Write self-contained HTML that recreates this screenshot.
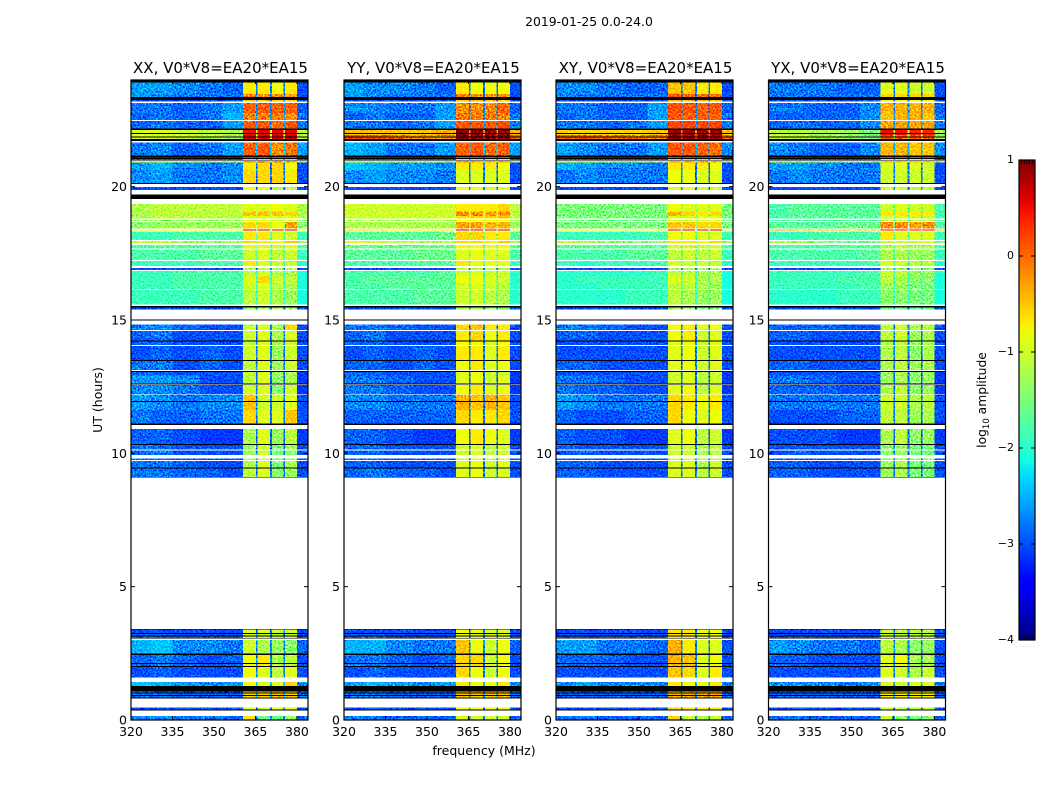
<!DOCTYPE html>
<html lang="en">
<head>
<meta charset="utf-8">
<title>2019-01-25 dynamic spectra</title>
<style>
html,body{margin:0;padding:0;background:#fff;}
svg{display:block;font-family:"DejaVu Sans","Liberation Sans",sans-serif;fill:#000;}
</style>
</head>
<body>
<svg id="figure" xmlns="http://www.w3.org/2000/svg" width="1050" height="800" viewBox="0 0 1050 800" style="isolation:isolate">
  <defs>
    <filter id="speckle" x="0" y="0" width="1" height="1" color-interpolation-filters="sRGB">
      <feTurbulence type="fractalNoise" baseFrequency="0.6" numOctaves="1" seed="7"/>
      <feColorMatrix type="matrix" values="2.2 0 0 0 -0.6  2.2 0 0 0 -0.6  2.2 0 0 0 -0.6  0 0 0 0 1"/>
    </filter>
    <linearGradient id="jet-gradient" x1="0" y1="1" x2="0" y2="0"></linearGradient>
  </defs>
  <text x="589" y="26" font-size="12.4" text-anchor="middle">2019-01-25 0.0-24.0</text>
  <text x="0" y="0" font-size="12.5" text-anchor="middle" transform="translate(102 400) rotate(-90)">UT (hours)</text>
  <text x="484" y="755" font-size="12.5" text-anchor="middle">frequency (MHz)</text>
  <text x="0" y="0" font-size="12.3" text-anchor="middle" transform="translate(986 400) rotate(-90)">log<tspan font-size="8.5" dy="3">10</tspan><tspan dy="-3"> amplitude</tspan></text>
  <g id="panels"></g>
  <g id="colorbar"></g>
</svg>
<script>
/* ---- chart data ---- */
const panelTitles = ["XX, V0*V8=EA20*EA15", "YY, V0*V8=EA20*EA15", "XY, V0*V8=EA20*EA15", "YX, V0*V8=EA20*EA15"];
const freqTicks = [320, 335, 350, 365, 380];
const timeTicks = [0, 5, 10, 15, 20];
const colorTicks = [1, 0, -1, -2, -3, -4];
/* frequency blocks (MHz): five background blocks, four sub-bands, one upper block */
const freqBlocks = [[320,327],[327,335],[335,345],[345,353],[353,360.5],[360.5,365.2],[365.8,370.3],[370.9,375.1],[375.7,380],[380,384]];
/* narrow notches between sub-bands; level is read from the upper block of each row */
const notchBlocks = [[365.2,365.8],[370.3,370.9],[375.1,375.7]];
/* UT ranges with data (hours) */
const dataBands = [[.02,.15],[.375,.46],[.8,1.28],[1.28,1.43],[1.6,1.98],[1.98,2.44],[2.44,3.0],[3.06,3.22],[3.27,3.4],
[9.12,9.45],[9.45,9.71],[9.75,9.81],[9.94,10.11],[10.15,10.34],[10.34,10.91],[11.09,11.63],[11.63,12.2],[12.22,12.56],[12.62,12.92],[12.92,13.05],[13.12,13.46],[13.5,14.03],[14.06,14.19],[14.21,14.59],[14.63,14.84],
[15.39,15.47],[15.58,16.13],[16.15,16.39],[16.39,16.65],[16.65,16.84],[16.88,16.95],[17.03,17.21],[17.25,17.65],[17.69,17.81],[17.88,17.96],[18.0,18.31],[18.36,18.4],[18.44,18.68],[18.71,18.75],[18.81,18.9],[18.9,19.06],[19.06,19.35],
[19.88,19.98],[20.13,20.63],[20.63,20.9],[20.9,20.96],[21.0,21.1],[21.1,21.65],[21.79,21.94],[21.94,22.13],[22.19,22.46],[22.5,22.76],[22.76,23.13],[23.19,23.25],[23.37,23.48],[23.48,23.9]];
/* UT ranges drawn black (hours) */
const flaggedBands = [[.36,.39],[.8,.84],[.9,.93],[1.0,1.03],[1.06,1.28],[1.98,2.03],[2.1,2.14],[2.44,2.49],[3.06,3.08],[3.13,3.16],[3.22,3.27],[3.4,3.42],
[9.09,9.12],[9.43,9.47],[10.31,10.35],[11.07,11.11],[11.92,11.96],[12.58,12.62],[13.05,13.09],[13.47,13.5],[14.19,14.23],[14.98,15.02],[15.47,15.52],
[19.54,19.71],[20.1,20.14],[20.98,21.0],[21.03,21.07],[21.1,21.17],[21.72,21.79],[21.84,21.88],[21.98,22.01],[22.13,22.19],[23.25,23.31],[23.31,23.37],[23.9,24]];
/* log10 amplitude per data band; columns follow freqBlocks */
const xxValues = [
[-2.7,-2.7,-2.8,-2.8,-2.9,-.7,-1.6,-1.6,-1.3,-2.9],[-3,-3,-3,-3,-3,-.9,-1,-.9,-.9,-3],[-2.8,-2.8,-2.9,-2.9,-2.9,-.6,-.6,-.5,-.6,-2.8],[-2.4,-2.5,-2.6,-2.7,-2.6,-.8,-.9,-.9,-.6,-2.7],[-3,-2.9,-3,-3,-3,-.8,-.9,-1.1,-.9,-3],[-2.9,-2.8,-2.9,-3,-2.9,-.8,-.7,-1.2,-1.1,-3],[-2.5,-2.4,-2.7,-2.7,-2.8,-1,-1.2,-1.3,-1.4,-2.9],[-2.9,-2.9,-3,-3,-3,-.9,-1,-1.1,-1,-3],[-3,-3,-3,-3,-3,-.9,-.9,-1,-1,-3],
[-2.8,-2.8,-2.9,-2.9,-3,-1.1,-.9,-1.4,-1.3,-3],[-2.8,-2.8,-2.9,-3,-3,-1.2,-.9,-1.5,-1.2,-3],[-2.9,-2.9,-3,-3,-3,-1.2,-1,-1.5,-1.3,-3],[-2.9,-2.8,-3,-3,-3,-1.3,-1,-1.5,-1.4,-3],[-2.8,-2.9,-3,-3,-3,-1.3,-1,-1.5,-1.3,-3],[-2.9,-2.9,-3,-3.1,-3.1,-1.2,-.9,-1.3,-1.1,-3.1],[-2.8,-2.9,-2.9,-2.8,-2.8,-.6,-.9,-.9,-.5,-3],[-2.6,-2.7,-2.8,-2.7,-2.7,-.5,-1,-1,-.9,-3],[-2.7,-2.7,-2.8,-3,-3,-1,-.9,-1.4,-1,-3.1],[-2.6,-2.6,-2.7,-3,-3,-1.1,-.9,-1.4,-1.2,-3.1],[-2.9,-2.9,-3,-3,-3,-1.1,-.9,-1.3,-1.2,-3.1],[-2.8,-2.8,-3,-2.9,-3,-1.1,-.9,-1.3,-1,-3],[-3,-2.9,-3,-2.9,-3,-1,-.9,-1.3,-1,-3],[-2.9,-2.9,-3,-3,-3,-1.1,-.9,-1.2,-1,-3],[-2.9,-2.8,-3,-3,-3,-1,-.9,-1.2,-.9,-3],[-2.8,-2.7,-2.9,-3,-3,-1.1,-.9,-1.2,-.6,-3],
[-3,-3,-3,-3,-3,-1.3,-1.2,-1.3,-1.3,-3],[-1.9,-1.9,-1.9,-1.8,-1.8,-1.1,-1,-1.2,-1.3,-2.1],[-1.9,-1.9,-1.8,-1.8,-1.8,-1,-.9,-1.1,-1.2,-2.1],[-1.9,-1.9,-1.8,-1.8,-1.8,-.9,-.6,-1,-1.1,-2.1],[-1.9,-1.9,-1.8,-1.8,-1.8,-1.1,-1,-1.2,-1.2,-2.1],[-3,-3,-3,-3,-3,-1.2,-1.2,-1.3,-1.3,-3],[-1.9,-1.9,-1.9,-1.8,-1.8,-.7,-.9,-1,-1,-2],[-1.8,-1.8,-1.8,-1.7,-1.7,-1,-.9,-1.1,-1,-1.9],[-1.8,-1.7,-1.7,-1.7,-1.7,-.9,-.9,-1,-.9,-1.8],[-1,-1.1,-1.3,-1.4,-1.3,-.6,-.7,-.8,-.5,-1.3],[-1.9,-1.9,-1.8,-1.8,-1.8,-.7,-.7,-.9,-1,-1.9],[-.7,-.7,-.8,-.8,-.8,.65,.65,.65,.65,-.8],[-1.4,-1.3,-1.3,-1.3,-1.3,-.6,-.6,-.8,-.3,-1.4],[-1.4,-1.4,-1.4,-1.4,-1.4,-.9,-.9,-1,-1,-1.5],[-1.2,-1.1,-1.1,-1.1,-1.1,-.9,-.9,-.9,-.9,-1.2],[-1.2,-1.1,-1.1,-1.1,-1.1,-.5,-.5,-.5,-.6,-1.2],[-1.2,-1.1,-1.1,-1.1,-1.1,-.9,-.9,-.8,-.9,-1.2],
[-3,-3,-3,-3,-3,-.8,-.9,-1.2,-1.2,-3],[-2.7,-2.6,-2.8,-2.8,-2.7,-.6,-.6,-.6,-.7,-3],[-2.6,-2.5,-2.7,-2.8,-2.7,-.7,-.6,-.6,-.8,-3],[-.9,-1,-1.1,-1.2,-1.2,-.3,-.3,-.3,-.3,-1.2],[-3,-3,-3,-3,-3,-.6,-.6,-.6,-.6,-3],[-2.8,-2.7,-2.9,-2.8,-2.6,.05,.1,-.2,-.05,-2.6],[-1,-1,-1.1,-1.2,-1.3,.6,.6,.6,.6,-1.2],[-.9,-.9,-1,-1.1,-1.2,.5,.55,.55,.55,-1.1],[-2.9,-2.8,-2.9,-2.9,-2.6,.1,.1,0,.1,-2.8],[-2.9,-2.8,-2.9,-2.8,-2.5,-.1,-.1,-.1,-.2,-2.8],[-2.8,-2.8,-2.9,-2.8,-2.6,.05,.05,.05,.05,-2.9],[-3,-3,-3,-3,-2.9,-.5,-.5,-.6,-.6,-3],[-2.6,-2.7,-2.8,-2.8,-2.8,-.1,-.2,-.2,-.3,-3],[-2.6,-2.6,-2.7,-2.8,-2.9,-.7,-.7,-.8,-.7,-3]];
const yyValues = [
[-2.8,-2.8,-2.9,-2.9,-2.9,-.9,-1,-1,-1,-2.9],[-3,-3,-3,-3,-3,-.8,-.8,-.8,-.8,-3],[-2.8,-2.8,-2.9,-2.9,-2.9,-.5,-.5,-.5,-.5,-2.8],[-2.6,-2.5,-2.6,-2.7,-2.6,-.7,-.8,-.8,-.7,-2.7],[-3,-2.9,-3,-3,-3,-.6,-.8,-1,-.8,-3],[-2.8,-2.8,-2.9,-3,-2.9,-.6,-.6,-1,-.8,-3],[-2.5,-2.5,-2.7,-2.8,-2.8,-.5,-.8,-1,-.8,-2.9],[-2.9,-2.9,-3,-3,-3,-.8,-.9,-.9,-.9,-3],[-3,-3,-3,-3,-3,-.8,-.8,-.9,-.9,-3],
[-2.9,-2.8,-2.9,-2.9,-3,-.9,-.8,-1,-.9,-3],[-2.9,-2.9,-3,-3,-3,-.9,-.8,-1,-.9,-3],[-2.9,-2.9,-3,-3,-3,-1,-.9,-1,-1,-3],[-2.9,-2.9,-3,-3,-3,-1,-.9,-1.1,-1,-3],[-2.9,-2.9,-3,-3,-3,-1,-.9,-1.1,-1,-3],[-2.9,-2.9,-3,-3.1,-3.1,-.8,-.7,-.8,-.9,-3.1],[-2.9,-2.9,-2.9,-2.9,-2.9,-.6,-.7,-.7,-.6,-3],[-2.7,-2.7,-2.8,-2.8,-2.8,-.4,-.5,-.4,-.5,-3],[-2.8,-2.8,-2.9,-3,-3,-.8,-.7,-.9,-.8,-3.1],[-2.8,-2.8,-2.9,-3,-3,-.9,-.8,-1,-.9,-3.1],[-2.9,-2.9,-3,-3,-3,-.9,-.8,-1,-1,-3.1],[-2.9,-2.9,-3,-2.9,-3,-.8,-.7,-.9,-.8,-3],[-3,-2.9,-3,-2.9,-3,-.7,-.7,-.9,-.7,-3],[-2.9,-2.9,-3,-3,-3,-.8,-.8,-.9,-.8,-3],[-2.9,-2.8,-3,-3,-3,-.7,-.6,-.8,-.7,-3],[-2.8,-2.8,-2.9,-3,-3,-.6,-.5,-.7,-.7,-3],
[-3,-3,-3,-3,-3,-1.2,-1.2,-1.3,-1.3,-3],[-1.8,-1.8,-1.8,-1.7,-1.7,-1,-1,-1.1,-1.2,-2],[-1.8,-1.8,-1.7,-1.7,-1.7,-1,-.9,-1,-1.1,-2],[-1.8,-1.7,-1.7,-1.7,-1.7,-.8,-.8,-.9,-1,-2],[-1.8,-1.8,-1.8,-1.8,-1.7,-1,-.9,-1,-1,-2],[-3,-3,-3,-3,-3,-1.1,-1.1,-1.2,-1.2,-3],[-1.8,-1.8,-1.8,-1.7,-1.7,-.7,-.8,-.8,-.8,-1.9],[-1.7,-1.7,-1.7,-1.6,-1.6,-.9,-.8,-.9,-.9,-1.8],[-1.6,-1.6,-1.6,-1.6,-1.6,-.8,-.8,-.9,-.8,-1.7],[-.9,-1,-1.2,-1.3,-1.2,-.6,-.6,-.7,-.5,-1.2],[-1.7,-1.7,-1.7,-1.7,-1.6,-.6,-.6,-.7,-.7,-1.7],[-.6,-.6,-.7,-.7,-.7,.7,.7,.7,.7,-.7],[-1.2,-1.2,-1.2,-1.2,-1.2,-.3,-.3,-.4,-.4,-1.3],[-1.3,-1.3,-1.3,-1.3,-1.3,-.8,-.8,-.8,-.8,-1.3],[-1,-1,-1,-1,-1,-.6,-.6,-.6,-.5,-1.1],[-1,-1,-1,-1,-1,-.2,-.2,-.3,-.2,-1.1],[-1,-1,-1,-1,-1,-.7,-.7,-.7,-.6,-1.1],
[-3,-3,-3,-3,-3,-.8,-.8,-.9,-.9,-3],[-2.7,-2.6,-2.7,-2.7,-2.8,-.9,-.9,-.9,-.9,-3],[-2.4,-2.5,-2.6,-2.6,-2.7,-.7,-.7,-.7,-.8,-3],[-.9,-1,-1.1,-1.2,-1.2,-.3,-.3,-.3,-.3,-1.2],[-3,-3,-3,-3,-3,-.7,-.7,-.7,-.7,-3],[-2.5,-2.6,-2.8,-2.8,-2.6,.05,.1,0,.05,-2.6],[.2,.1,-.1,-.2,-.2,.95,.95,.95,.95,.1],[-.5,-.5,-.5,-.5,-.4,.95,.95,.95,.95,-.4],[-2.8,-2.8,-2.9,-2.8,-2.6,.1,.1,.1,.15,-2.8],[-2.9,-2.8,-2.9,-2.9,-2.6,-.1,-.1,-.1,-.1,-2.8],[-2.7,-2.7,-2.8,-2.8,-2.6,-.2,-.2,-.15,0,-2.9],[-3,-3,-3,-3,-2.9,-.5,-.5,-.5,-.5,-3],[-2.6,-2.7,-2.8,-2.8,-2.8,-.1,-.2,-.2,-.2,-3],[-2.6,-2.7,-2.7,-2.8,-2.9,-.7,-.8,-.8,-.8,-3]];
const xyValues = [
[-2.8,-2.8,-2.9,-2.9,-2.9,-.6,-1,-1.1,-1,-2.9],[-3,-3,-3,-3,-3,-.6,-.7,-.7,-.7,-3],[-2.9,-2.9,-2.9,-2.9,-2.9,-.4,-.4,-.4,-.4,-2.9],[-2.7,-2.6,-2.7,-2.7,-2.7,-.7,-.8,-.8,-.7,-2.8],[-3,-3,-3,-3,-3,-.5,-.6,-.9,-.7,-3],[-2.9,-2.9,-2.9,-3,-3,-.4,-.5,-.9,-.8,-3],[-2.6,-2.6,-2.8,-2.8,-2.9,-.4,-.7,-.9,-.9,-3],[-3,-3,-3,-3,-3,-.7,-.7,-.8,-.8,-3],[-3,-3,-3,-3,-3,-.7,-.7,-.8,-.8,-3],
[-2.9,-2.9,-3,-3,-3,-.9,-.9,-1.1,-1,-3],[-2.9,-2.9,-3,-3,-3,-.9,-.9,-1.2,-1,-3],[-3,-3,-3,-3,-3,-1,-1,-1.2,-1.1,-3],[-3,-2.9,-3,-3,-3,-1,-1,-1.2,-1.1,-3],[-2.9,-3,-3,-3,-3,-1,-1,-1.2,-1.1,-3],[-2.9,-3,-3,-3.1,-3.1,-.9,-.8,-1.1,-1,-3.1],[-2.9,-3,-3,-2.9,-2.9,-.6,-.8,-.9,-.8,-3],[-2.6,-2.7,-2.8,-2.8,-2.8,-.6,-.7,-.8,-.7,-3],[-2.8,-2.9,-2.9,-3,-3,-.9,-.8,-1.1,-.9,-3.1],[-2.8,-2.8,-2.9,-3,-3,-1,-.9,-1.1,-1,-3.1],[-3,-3,-3,-3,-3,-1,-.9,-1.1,-1,-3.1],[-2.9,-2.9,-3,-3,-3,-.9,-.8,-1,-.9,-3],[-3,-3,-3,-3,-3,-.9,-.8,-1,-.9,-3],[-3,-3,-3,-3,-3,-.9,-.8,-1,-.9,-3],[-2.9,-2.9,-3,-3,-3,-.8,-.7,-1,-.9,-3],[-2.8,-2.8,-2.9,-3,-3,-.8,-.7,-.9,-.8,-3],
[-3,-3,-3,-3,-3,-1.3,-1.3,-1.4,-1.4,-3],[-2,-2,-2,-1.9,-1.9,-1.1,-1.2,-1.3,-1.3,-2.1],[-2,-2,-1.9,-1.9,-1.9,-1.1,-1.1,-1.2,-1.3,-2.1],[-2,-1.9,-1.9,-1.9,-1.9,-.9,-1,-1.2,-1.2,-2.1],[-2,-2,-2,-2,-1.9,-1.1,-1.1,-1.2,-1.2,-2.1],[-3,-3,-3,-3,-3,-1.2,-1.2,-1.3,-1.3,-3],[-1.9,-2,-1.9,-1.9,-1.8,-.9,-1,-1,-1,-2],[-1.8,-1.8,-1.8,-1.7,-1.7,-1.1,-1,-1.1,-1,-1.9],[-1.7,-1.7,-1.7,-1.7,-1.7,-1,-1,-1,-1,-1.8],[-1.1,-1.2,-1.4,-1.5,-1.4,-.7,-.7,-.8,-.6,-1.3],[-1.9,-1.9,-1.9,-1.9,-1.8,-.8,-.8,-.9,-.9,-1.9],[-.8,-.8,-.9,-.9,-.9,.6,.6,.6,.6,-.9],[-1.5,-1.5,-1.5,-1.5,-1.5,-.5,-.5,-.6,-.6,-1.5],[-1.6,-1.6,-1.6,-1.6,-1.6,-1,-1,-1,-1,-1.6],[-1.5,-1.5,-1.5,-1.5,-1.5,-.9,-.9,-.9,-.9,-1.5],[-1.5,-1.5,-1.5,-1.5,-1.5,-.4,-.6,-.7,-.6,-1.5],[-1.5,-1.5,-1.5,-1.5,-1.5,-.8,-.9,-.9,-.9,-1.5],
[-3,-3,-3,-3,-3,-.9,-.9,-1,-1,-3],[-2.8,-2.7,-2.8,-2.8,-2.8,-.8,-.8,-.9,-.9,-3],[-2.5,-2.6,-2.7,-2.7,-2.8,-.7,-.7,-.7,-.8,-3],[-.9,-1,-1.1,-1.2,-1.2,-.4,-.4,-.4,-.4,-1.2],[-3,-3,-3,-3,-3,-.6,-.6,-.6,-.6,-3],[-2.6,-2.7,-2.8,-2.8,-2.6,.1,.1,.05,0,-2.7],[.15,.1,0,-.1,-.1,.9,.9,.9,.9,0],[-.6,-.6,-.6,-.6,-.5,.9,.9,.9,.9,-.5],[-2.8,-2.8,-2.9,-2.8,-2.6,.2,.2,.2,.2,-2.8],[-2.9,-2.8,-2.9,-2.9,-2.6,.1,.05,.05,.05,-2.8],[-2.8,-2.8,-2.9,-2.9,-2.6,.15,.1,.05,.1,-2.9],[-3,-3,-3,-3,-2.9,-.4,-.4,-.5,-.5,-3],[-2.7,-2.8,-2.8,-2.8,-2.8,.15,.05,0,0,-3],[-2.7,-2.7,-2.8,-2.9,-2.9,-.5,-.5,-.7,-.7,-3]];
const yxValues = [
[-2.9,-2.8,-2.9,-2.9,-2.9,-1,-1.4,-1.5,-1.4,-2.9],[-3,-3,-3,-3,-3,-1,-1.1,-1.1,-1.1,-3],[-2.9,-2.9,-2.9,-2.9,-2.9,-.7,-.7,-.7,-.7,-2.9],[-2.7,-2.7,-2.7,-2.8,-2.7,-.9,-1,-1,-.9,-2.8],[-3,-3,-3,-3,-3,-.9,-1,-1.2,-1,-3],[-2.9,-2.9,-3,-3,-3,-.9,-.8,-1.2,-1.2,-3],[-2.6,-2.7,-2.8,-2.8,-2.9,-1.1,-1.2,-1.4,-1.3,-3],[-3,-3,-3,-3,-3,-1,-1.1,-1.1,-1.1,-3],[-3,-3,-3,-3,-3,-1,-1.1,-1.1,-1.1,-3],
[-2.9,-2.9,-3,-3,-3,-1.3,-1.2,-1.5,-1.5,-3],[-2.9,-2.9,-3,-3,-3,-1.3,-1.2,-1.5,-1.5,-3],[-3,-3,-3,-3,-3,-1.3,-1.3,-1.5,-1.5,-3],[-3,-2.9,-3,-3,-3,-1.4,-1.3,-1.5,-1.5,-3],[-3,-3,-3,-3,-3,-1.4,-1.3,-1.5,-1.5,-3],[-3,-3,-3,-3.1,-3.1,-1.2,-1.1,-1.4,-1.3,-3.1],[-3,-3,-3,-2.9,-2.9,-1.1,-1.1,-1.3,-1.2,-3],[-2.8,-2.8,-2.8,-2.8,-2.8,-1,-1,-1.2,-1.1,-3],[-2.9,-2.9,-2.9,-3,-3,-1.2,-1.1,-1.4,-1.3,-3.1],[-2.8,-2.8,-2.9,-3,-3,-1.3,-1.2,-1.4,-1.3,-3.1],[-3,-3,-3,-3,-3,-1.3,-1.2,-1.4,-1.3,-3.1],[-2.9,-2.9,-3,-3,-3,-1.2,-1.1,-1.3,-1.2,-3],[-3,-3,-3,-3,-3,-1.2,-1.1,-1.4,-1.2,-3],[-3,-3,-3,-3,-3,-1.2,-1.1,-1.3,-1.2,-3],[-2.9,-2.9,-3,-3,-3,-1.1,-1,-1.3,-1.2,-3],[-2.9,-2.9,-2.9,-3,-3,-1.1,-1,-1.2,-1.1,-3],
[-3,-3,-3,-3,-3,-1.5,-1.5,-1.6,-1.6,-3],[-2,-2,-2,-1.9,-1.9,-1.4,-1.4,-1.5,-1.5,-2.1],[-1.9,-1.9,-1.9,-1.9,-1.8,-1.3,-1.3,-1.5,-1.5,-2.1],[-1.9,-1.9,-1.9,-1.8,-1.8,-1.1,-1.2,-1.4,-1.4,-2.1],[-1.9,-1.9,-1.9,-1.9,-1.8,-1,-1.1,-1.3,-1.3,-2],[-3,-3,-3,-3,-3,-1.3,-1.3,-1.4,-1.4,-3],[-1.9,-1.9,-1.9,-1.9,-1.8,-.9,-1,-1.1,-1.1,-2],[-1.8,-1.8,-1.8,-1.8,-1.7,-1.2,-1.2,-1.3,-1.3,-1.9],[-1.8,-1.8,-1.8,-1.7,-1.7,-1.2,-1.1,-1.2,-1.2,-1.8],[-1.2,-1.3,-1.5,-1.6,-1.6,-1,-1,-1,-.9,-1.5],[-1.9,-1.9,-1.8,-1.8,-1.8,-.7,-.9,-.9,-.9,-1.9],[-.4,-.4,-.5,-.5,-.5,.5,.5,.5,.5,-.5],[-1.7,-1.7,-1.7,-1.6,-1.6,-.2,-.2,-.3,-.2,-1.7],[-1.8,-1.8,-1.8,-1.8,-1.8,-1.1,-1.1,-1.1,-1.1,-1.8],[-1.8,-1.7,-1.7,-1.7,-1.7,-1,-.9,-1,-1,-1.8],[-1.8,-1.7,-1.7,-1.7,-1.7,-.7,-.7,-.7,-.7,-1.8],[-1.8,-1.7,-1.7,-1.7,-1.7,-1,-.9,-1,-1,-1.8],
[-3,-3,-3,-3,-3,-1,-1,-1.1,-1.1,-3],[-2.8,-2.7,-2.8,-2.8,-2.8,-1,-1,-1,-1,-3],[-2.6,-2.6,-2.7,-2.8,-2.8,-.9,-.9,-.9,-1,-3],[-1,-1.1,-1.2,-1.3,-1.3,-.5,-.5,-.5,-.5,-1.3],[-3,-3,-3,-3,-3,-.9,-.9,-.9,-.9,-3],[-2.7,-2.8,-2.9,-2.9,-2.7,-.4,-.4,-.5,-.5,-2.7],[-1.1,-1.2,-1.3,-1.4,-1.5,.1,.1,.1,.1,-1.4],[-1.1,-1.1,-1.2,-1.3,-1.5,.5,.5,.4,.4,-1.3],[-2.9,-2.8,-2.9,-2.9,-2.7,-.3,-.3,-.3,-.3,-2.8],[-2.9,-2.9,-2.9,-2.9,-2.7,-.5,-.4,-.4,-.5,-2.8],[-2.8,-2.8,-2.9,-2.9,-2.7,-.4,-.4,-.4,-.4,-2.9],[-3,-3,-3,-3,-2.9,-.8,-.8,-.8,-.8,-3],[-2.8,-2.8,-2.8,-2.8,-2.8,-.6,-.6,-.6,-.6,-3],[-2.8,-2.8,-2.8,-2.9,-2.9,-.9,-.9,-1,-1,-3]];
const panelValues = [xxValues, yyValues, xyValues, yxValues];

/* ---- layout and scales ---- */
const NS = "http://www.w3.org/2000/svg";
const panelLeft = [131, 344, 556, 768.5];
const panelWidth = 177;
const plotTop = 80, plotBottom = 720;
const freqMin = 320, freqMax = 384, timeMin = 0, timeMax = 24;
const colorMin = -4, colorMax = 1;
const barLeft = 1019, barRight = 1035, barTop = 160, barBottom = 640;
function xScale(f, i){ return panelLeft[i] + (f - freqMin) / (freqMax - freqMin) * panelWidth; }
function yScale(t){ return plotBottom - (t - timeMin) / (timeMax - timeMin) * (plotBottom - plotTop); }
function colorY(v){ return barBottom - (v - colorMin) / (colorMax - colorMin) * (barBottom - barTop); }
function ramp(t, pts){
  for (let k = 1; k < pts.length; k++) {
    if (t <= pts[k][0]) {
      const a = pts[k-1], b = pts[k];
      return a[1] + (b[1] - a[1]) * (t - a[0]) / (b[0] - a[0]);
    }
  }
  return pts[pts.length-1][1];
}
const jetR = [[0,0],[.35,0],[.66,1],[.89,1],[1,.5]];
const jetG = [[0,0],[.125,0],[.375,1],[.64,1],[.91,0],[1,0]];
const jetB = [[0,.5],[.11,1],[.34,1],[.65,0],[1,0]];
function jet(v){
  const t = Math.max(0, Math.min(1, (v - colorMin) / (colorMax - colorMin)));
  const c = p => Math.round(255 * ramp(t, p));
  return "rgb(" + c(jetR) + "," + c(jetG) + "," + c(jetB) + ")";
}
function make(tag, attrs, parent){
  const el = document.createElementNS(NS, tag);
  for (const k in attrs) el.setAttribute(k, attrs[k]);
  parent.appendChild(el);
  return el;
}
const panelsRoot = document.getElementById("panels");
panelTitles.forEach(function(title, i){
  const g = make("g", {}, panelsRoot);
  
  
  const plotBg = make("rect", {x: panelLeft[i], y: plotTop, width: panelWidth, height: plotBottom - plotTop, fill: "#fff"}, g);
  
  
  const cells = make("g", {"shape-rendering": "crispEdges"}, g);
  
  
  dataBands.forEach(function(band, r){
    const y1 = yScale(band[1]), y0 = yScale(band[0]);
    const row = panelValues[i][r];
    freqBlocks.forEach(function(block, c){
      const x0 = xScale(block[0], i), x1 = xScale(block[1], i);
      const cell = make("rect", {x: x0, y: y1, width: x1 - x0, height: y0 - y1, fill: jet(row[c])}, cells);
      
      
    });
    notchBlocks.forEach(function(block){
      const x0 = xScale(block[0], i), x1 = xScale(block[1], i);
      const cell = make("rect", {x: x0, y: y1, width: x1 - x0, height: y0 - y1, fill: jet(row[9] + .2)}, cells);
      
      
    });
  });
  flaggedBands.forEach(function(band){
    const y1 = yScale(band[1]), y0 = yScale(band[0]);
    const bar = make("rect", {x: xScale(freqMin, i), y: y1, width: panelWidth, height: y0 - y1, fill: "#000"}, cells);
    
    
  });
  const grain = make("rect", {x: panelLeft[i], y: plotTop, width: panelWidth, height: plotBottom - plotTop, filter: "url(#speckle)", style: "mix-blend-mode:overlay"}, g);
  
  
  const frame = make("rect", {x: panelLeft[i], y: plotTop, width: panelWidth, height: plotBottom - plotTop, fill: "none", stroke: "#000", "stroke-width": 1.2}, g);
  
  
  const heading = make("text", {x: panelLeft[i] + panelWidth / 2 + 1, y: 73, "font-size": 15, "text-anchor": "middle"}, g);
  heading.textContent = title;
  
  
  freqTicks.forEach(function(f){
    const x = xScale(f, i);
    const lo = make("line", {x1: x, x2: x, y1: plotBottom, y2: plotBottom - 4, stroke: "#000"}, g);
    
    
    const hi = make("line", {x1: x, x2: x, y1: plotTop, y2: plotTop + 4, stroke: "#000"}, g);
    
    
    const label = make("text", {x: x, y: 736, "font-size": 12.5, "text-anchor": "middle"}, g);
    label.textContent = String(f);
    
    
  });
  timeTicks.forEach(function(t){
    const y = yScale(t);
    const lo = make("line", {x1: panelLeft[i], x2: panelLeft[i] + 4, y1: y, y2: y, stroke: "#000"}, g);
    
    
    const hi = make("line", {x1: panelLeft[i] + panelWidth, x2: panelLeft[i] + panelWidth - 4, y1: y, y2: y, stroke: "#000"}, g);
    
    
    const label = make("text", {x: panelLeft[i] - 4, y: y + 4.5, "font-size": 12.5, "text-anchor": "end"}, g);
    label.textContent = String(t);
    
    
  });
});
/* colour bar */
const grad = document.getElementById("jet-gradient");
for (let k = 0; k <= 40; k++) {
  make("stop", {offset: k / 40, "stop-color": jet(colorMin + (colorMax - colorMin) * k / 40)}, grad);
}
const barRoot = document.getElementById("colorbar");
const barFill = make("rect", {x: barLeft, y: barTop, width: barRight - barLeft, height: barBottom - barTop, fill: "url(#jet-gradient)", stroke: "#000", "stroke-width": 1.2}, barRoot);


colorTicks.forEach(function(v){
  const y = colorY(v);
  const a = make("line", {x1: barLeft, x2: barLeft + 4, y1: y, y2: y, stroke: "#000"}, barRoot);
  
  
  const b = make("line", {x1: barRight, x2: barRight - 4, y1: y, y2: y, stroke: "#000"}, barRoot);
  
  
  const label = make("text", {x: barLeft - 5, y: y + 3, "font-size": 11, "text-anchor": "end"}, barRoot);
  label.textContent = String(v).replace("-", "\u2212");
  
  
});
[1,2,3,4,5].forEach(function(n){
  const x = barLeft + n * (barRight - barLeft) / 6;
  const top = make("line", {x1: x, x2: x, y1: barTop, y2: barTop + 4, stroke: "#000", "stroke-width": .8}, barRoot);
  
  
  const bottom = make("line", {x1: x, x2: x, y1: barBottom, y2: barBottom - 4, stroke: "#000", "stroke-width": .8}, barRoot);
  
  
});
const dots = make("text", {x: 1026, y: 647, "font-size": 5, "text-anchor": "middle", fill: "#888", "letter-spacing": "1.7"}, barRoot);
dots.textContent = "......";


</script>
</body>
</html>
